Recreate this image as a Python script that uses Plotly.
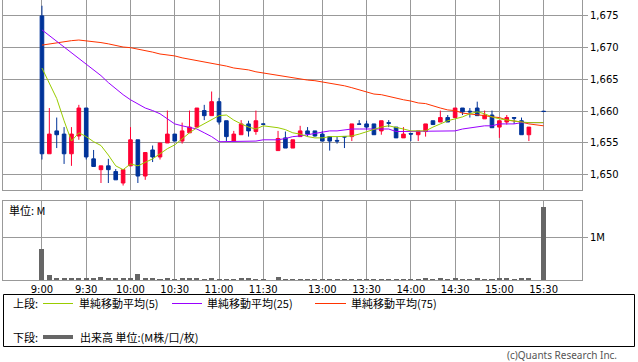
import plotly.graph_objects as go

# ---------------- data ----------------
candle_times = ["9:00","9:05","9:10","9:15","9:20","9:25","9:30","9:35","9:40","9:45",
                "9:50","9:55","10:00","10:05","10:10","10:15","10:20","10:25","10:30","10:35",
                "10:40","10:45","10:50","10:55","11:00","11:05","11:10","11:15","11:20","11:25",
                "11:30",
                "12:30","12:35","12:40","12:45","12:50","12:55","13:00","13:05","13:10","13:15",
                "13:20","13:25","13:30","13:35","13:40","13:45","13:50","13:55","14:00","14:05",
                "14:10","14:15","14:20","14:25","14:30","14:35","14:40","14:45","14:50","14:55",
                "15:00","15:05","15:10","15:15","15:20","15:30"]

opens = [1675.0,1653.3,1656.9,1656.4,1653.3,1656.1,1660.5,1652.5,1650.8,1651.4,
         1650.5,1648.7,1651.4,1655.5,1649.8,1653.9,1652.8,1655.0,1656.4,1655.3,
         1656.6,1657.5,1660.1,1659.3,1661.5,1658.5,1655.3,1656.3,1658.0,1656.8,
         1658.0,
         1653.8,1655.8,1654.2,1656.0,1656.9,1656.9,1656.4,1656.0,1655.4,1656.0,
         1656.0,1658.0,1658.0,1658.0,1656.9,1658.2,1657.5,1655.8,1656.5,1656.3,
         1656.8,1658.5,1658.3,1659.0,1659.0,1660.5,1660.0,1660.5,1658.8,1659.4,
         1657.5,1658.3,1659.0,1658.5,1656.3,1660.0]
highs = [1676.6,1660.5,1659.0,1657.5,1657.5,1661.0,1660.5,1653.9,1651.4,1652.5,
         1650.9,1650.8,1657.5,1655.5,1653.5,1654.6,1655.0,1660.1,1656.4,1658.2,
         1660.1,1660.5,1661.0,1663.1,1662.1,1658.5,1656.9,1658.6,1658.5,1660.1,
         1658.0,
         1656.9,1656.8,1655.5,1657.7,1657.5,1656.9,1656.9,1656.0,1656.0,1656.0,
         1658.0,1658.6,1658.5,1658.0,1658.5,1658.6,1657.5,1657.5,1656.5,1656.9,
         1658.0,1658.5,1660.1,1659.4,1660.5,1660.5,1660.5,1661.5,1660.1,1660.1,
         1658.5,1659.4,1659.0,1659.0,1657.5,1660.0]
lows = [1652.4,1653.3,1654.2,1651.7,1651.4,1655.5,1652.4,1651.3,1648.7,1648.7,
        1649.2,1648.3,1651.4,1648.7,1649.2,1652.0,1652.4,1655.0,1655.3,1654.9,
        1656.6,1657.5,1658.6,1659.3,1657.9,1655.3,1655.3,1656.3,1656.0,1656.3,
        1657.95,
        1653.8,1654.2,1654.2,1656.0,1656.0,1656.0,1655.3,1653.8,1654.9,1654.2,
        1655.3,1657.95,1657.1,1656.3,1656.3,1657.5,1655.8,1655.8,1655.3,1655.3,
        1656.0,1657.9,1658.3,1658.3,1659.0,1659.4,1659.0,1659.3,1658.8,1657.4,
        1655.8,1657.9,1658.0,1656.3,1655.3,1659.95]
closes = [1653.3,1656.4,1656.3,1653.3,1656.4,1660.5,1652.8,1651.3,1651.4,1650.8,
          1649.2,1650.8,1655.5,1649.8,1653.5,1652.8,1655.0,1656.4,1655.3,1656.9,
          1657.5,1660.5,1659.3,1661.5,1658.3,1656.0,1656.4,1658.0,1656.9,1658.5,
          1657.95,
          1655.7,1654.2,1655.5,1656.9,1656.4,1656.1,1655.3,1655.3,1655.3,1655.95,
          1658.0,1657.95,1657.5,1656.3,1658.5,1658.1,1655.8,1656.4,1656.4,1656.9,
          1658.0,1657.9,1659.0,1658.3,1660.5,1659.9,1659.9,1659.3,1659.4,1657.4,
          1658.5,1659.0,1658.9,1656.3,1657.5,1659.95]
volume_m = [0.73,0.12,0.045,0.045,0.025,0.045,0.045,0.025,0.07,0.025,
            0.025,0.025,0.025,0.14,0.025,0.025,0.01,0.025,0.01,0.025,
            0.025,0.025,0.01,0.025,0.01,0.01,0.01,0.025,0.025,0.01,
            0.01,
            0.07,0.01,0.01,0.01,0.01,0.01,0.01,0.01,0.01,0.01,
            0.01,0.01,0.01,0.01,0.01,0.01,0.01,0.01,0.01,0.01,
            0.025,0.01,0.025,0.01,0.025,0.01,0.01,0.025,0.01,0.01,
            0.025,0.025,0.01,0.025,0.045,1.73]

ma_times = ["9:00","9:05","9:10","9:15","9:20","9:25","9:30","9:35","9:40","9:45",
            "9:50","9:55","10:00","10:05","10:10","10:15","10:20","10:25","10:30","10:35",
            "10:40","10:45","10:50","10:55","11:00","11:05","11:10","11:15","11:20","11:25",
            "11:30",
            "12:30","12:35","12:40","12:45","12:50","12:55","13:00","13:05","13:10","13:15",
            "13:20","13:25","13:30","13:35","13:40","13:45","13:50","13:55","14:00","14:05",
            "14:10","14:15","14:20","14:25","14:30","14:35","14:40","14:45","14:50","14:55",
            "15:00","15:05","15:10","15:15","15:20","15:25","15:30"]
ma5 = [1666.8,1664.3,1662.0,1658.5,1655.3,1656.6,1656.0,1655.2,1654.6,1653.1,
       1651.4,1650.8,1651.7,1651.4,1651.9,1652.5,1653.3,1654.1,1654.7,1655.7,
       1656.6,1657.4,1658.0,1658.6,1659.3,1659.4,1658.6,1658.0,1657.5,1657.2,
       1657.7,
       1657.4,1657.1,1656.6,1656.4,1656.0,1655.8,1655.8,1656.0,1656.0,1656.0,
       1656.1,1656.4,1656.8,1657.1,1657.5,1657.7,1657.5,1657.2,1656.9,1656.9,
       1656.9,1657.5,1658.0,1658.5,1658.8,1659.1,1659.6,1659.9,1659.6,1659.1,
       1658.8,1658.6,1658.5,1658.3,1658.2,1658.2,1658.2]
ma25 = [1672.8,1671.9,1671.1,1670.1,1669.2,1668.4,1667.5,1666.5,1665.6,1664.5,
        1663.5,1662.6,1661.8,1661.2,1660.5,1660.1,1659.6,1658.8,1658.0,1657.7,
        1657.5,1657.2,1656.6,1656.0,1655.2,1655.2,1655.2,1655.2,1655.3,1655.3,
        1655.5,
        1655.5,1655.7,1656.0,1656.1,1656.3,1656.6,1656.8,1656.9,1656.9,1657.1,
        1657.2,1657.2,1657.2,1657.2,1657.2,1657.2,1656.8,1656.8,1656.8,1656.8,
        1656.8,1656.8,1656.8,1656.9,1656.9,1657.2,1657.4,1657.5,1657.7,1657.7,
        1658.0,1658.0,1658.0,1658.2,1658.2,1658.2,1658.2]
ma75 = [1670.4,1670.6,1670.8,1670.9,1671.1,1671.2,1671.1,1670.9,1670.8,1670.6,
        1670.3,1670.1,1670.0,1669.8,1669.5,1669.3,1669.0,1668.9,1668.7,1668.4,
        1668.2,1667.9,1667.8,1667.5,1667.3,1667.1,1666.8,1666.7,1666.5,1666.2,
        1666.0,
        1665.7,1665.4,1665.3,1665.1,1664.9,1664.8,1664.6,1664.5,1664.3,1664.0,
        1663.7,1663.4,1663.1,1662.7,1662.6,1662.3,1662.0,1661.8,1661.6,1661.3,
        1661.2,1660.8,1660.5,1660.2,1660.1,1659.7,1659.6,1659.4,1659.3,1659.1,
        1659.0,1658.6,1658.5,1658.3,1658.0,1657.9,1657.7]

tick_labels = ["9:00","9:30","10:00","10:30","11:00","11:30","13:00","13:30","14:00","14:30","15:00","15:30"]
price_ticks = [1650, 1655, 1660, 1665, 1670, 1675]

legend_row1 = ["単純移動平均(5)", "単純移動平均(25)", "単純移動平均(75)"]
legend_row2 = "出来高 単位:(M株/口/枚)"

# ---------------- scale helpers ----------------
def slot(t):
    h, m = map(int, t.split(":"))
    mins = h * 60 + m - 540
    s = mins // 5
    return s if mins <= 150 else s - 10

xc = [slot(t) for t in candle_times]
xm = [slot(t) for t in ma_times]
xt = [slot(t) for t in tick_labels]

RED = "#ff0033"
BLUE = "#003399"
C5, C25, C75 = "#99cc00", "#9900ff", "#ff3300"
GRID = "#999999"

W, H = 638, 362
L, R, T, B = 3, 56, 0, 82
PW, PH = W - L - R, H - T - B

def px(x):
    return (x - L) / PW

def py(y):
    return (H - B - y) / PH

fig = go.Figure()

for ys, c in [(ma75, C75), (ma25, C25), (ma5, C5)]:
    fig.add_trace(go.Scatter(x=xm, y=ys, mode="lines", line=dict(color=c, width=1),
                             xaxis="x", yaxis="y", showlegend=False, hoverinfo="skip"))

fig.add_trace(go.Candlestick(
    x=xc, open=opens, high=highs, low=lows, close=closes,
    increasing=dict(line=dict(color=RED, width=1), fillcolor=RED),
    decreasing=dict(line=dict(color=BLUE, width=1), fillcolor=BLUE),
    whiskerwidth=0, xaxis="x", yaxis="y", showlegend=False))

fig.add_trace(go.Bar(x=xc, y=volume_m, width=0.68, marker=dict(color="#666666", line=dict(width=0)),
                     xaxis="x2", yaxis="y2", showlegend=False))

xr = [-5.28, 73.2]
axis_common = dict(showline=True, mirror=True, linecolor=GRID, linewidth=1,
                   showgrid=True, gridcolor=GRID, gridwidth=1, zeroline=False)

fig.update_layout(
    width=W, height=H,
    margin=dict(l=L, r=R, t=T, b=B),
    paper_bgcolor="white", plot_bgcolor="white",
    font=dict(family="DejaVu Sans", size=10, color="#000000"),
    xaxis=dict(domain=[0, 1], range=xr, tickvals=xt, showticklabels=False, ticks="",
               rangeslider=dict(visible=False), anchor="y", **axis_common),
    yaxis=dict(domain=[90 / 280, 1], range=[1647.6, 1677.5], side="right",
               tickvals=price_ticks, tickformat=",d", ticks="outside", ticklen=5,
               tickcolor=GRID, anchor="x", **axis_common),
    xaxis2=dict(domain=[0, 1], range=xr, tickvals=xt, ticktext=tick_labels, ticks="",
                anchor="y2", **axis_common),
    yaxis2=dict(domain=[0, 79 / 280], range=[0, 1.87], side="right",
                tickvals=[1], ticktext=["1M"], ticks="outside", ticklen=5,
                tickcolor=GRID, anchor="x2", **axis_common),
    bargap=0,
)

shapes = []
shapes.append(dict(type="rect", xref="paper", yref="paper",
                   x0=px(3.5), x1=px(634.5), y0=py(294.5), y1=py(346.5),
                   line=dict(color="black", width=1), fillcolor="rgba(0,0,0,0)"))
for (x0, x1, c) in [(43, 73, C5), (172, 202, C25), (315, 346, C75)]:
    shapes.append(dict(type="line", xref="paper", yref="paper", x0=px(x0), x1=px(x1),
                       y0=py(303.5), y1=py(303.5), line=dict(color=c, width=1)))
shapes.append(dict(type="line", xref="paper", yref="paper", x0=px(43), x1=px(73),
                   y0=py(337), y1=py(337), line=dict(color="#666666", width=4)))
fig.update_layout(shapes=shapes)

JP = "Noto Sans CJK JP"
ann = []
def add_text(text, x, y, anchor="left", size=11, color="#000000", family=JP):
    ann.append(dict(text=text, x=px(x), y=py(y), xref="paper", yref="paper",
                    xanchor=anchor, yanchor="middle", showarrow=False,
                    font=dict(family=family, size=size, color=color)))

add_text("上段:", 11, 303)
add_text(legend_row1[0], 77, 303)
add_text(legend_row1[1], 205, 303)
add_text(legend_row1[2], 349, 303)
add_text("下段:", 11, 337)
add_text(legend_row2, 78, 337)
add_text("単位: M", 7, 210)
add_text("(c)Quants Research Inc.", 619, 355, anchor="right", size=10, color="#555555",
         family="Noto Sans")
fig.update_layout(annotations=ann)

fig.write_html("out.html", config={"displayModeBar": False},
               post_script="document.body.style.margin='0';document.body.style.overflow='hidden';")
